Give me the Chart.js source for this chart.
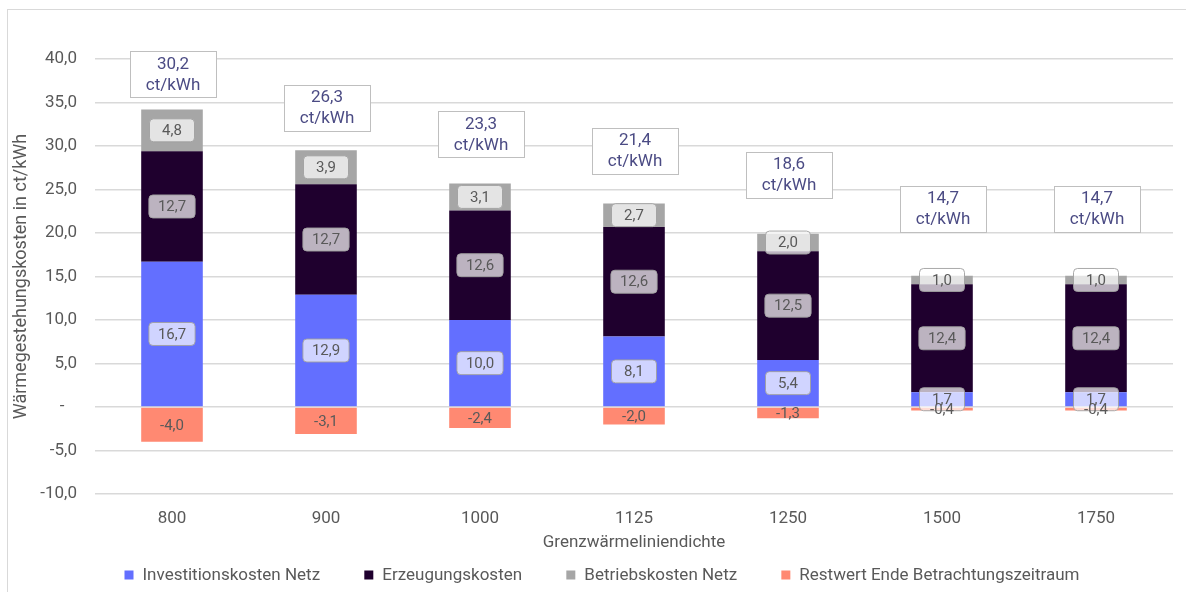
<!DOCTYPE html>
<html lang="de">
<head>
<meta charset="utf-8">
<title>Wärmegestehungskosten</title>
<script src="https://cdn.jsdelivr.net/npm/chart.js@4/dist/chart.umd.min.js"></script>
<style>
    html, body { margin: 0; padding: 0; background: #fff; }
    #wrap { width: 1186px; height: 592px; }
</style>
</head>
<body>
<div id="wrap"><canvas id="kostenChart" width="1186" height="592"></canvas></div>
<script>
// Grenzwärmeliniendichte (Kategorien)
const kategorien = ['800', '900', '1000', '1125', '1250', '1500', '1750'];

// Kostenbestandteile in ct/kWh
const investitionskosten = [16.7, 12.9, 10.0, 8.1, 5.4, 1.7, 1.7];
const erzeugungskosten = [12.7, 12.7, 12.6, 12.6, 12.5, 12.4, 12.4];
const betriebskosten = [4.8, 3.9, 3.1, 2.7, 2.0, 1.0, 1.0];
const restwert = [-4.0, -3.1, -2.4, -2.0, -1.3, -0.4, -0.4];

// Summe je Kategorie (Beschriftung oberhalb)
const gesamt = [30.2, 26.3, 23.3, 21.4, 18.6, 14.7, 14.7];

const FONT = "Roboto, 'Noto Sans', sans-serif";
const GRAU_TEXT = '#595959';

const fmt = v => v.toFixed(1).replace('.', ',');

// Rahmen um das gesamte Diagramm
const rahmen = {
    id: 'rahmen',
    beforeDraw(chart) {
        const ctx = chart.ctx;
        ctx.save();
        ctx.strokeStyle = '#D9D9D9';
        ctx.lineWidth = 1;
        ctx.strokeRect(7.5, 9.5, chart.width + 20, chart.height + 20);
        ctx.restore();
    }
};

function roundRect(ctx, x, y, w, h, r) {
    ctx.beginPath();
    ctx.moveTo(x + r, y);
    ctx.lineTo(x + w - r, y);
    ctx.quadraticCurveTo(x + w, y, x + w, y + r);
    ctx.lineTo(x + w, y + h - r);
    ctx.quadraticCurveTo(x + w, y + h, x + w - r, y + h);
    ctx.lineTo(x + r, y + h);
    ctx.quadraticCurveTo(x, y + h, x, y + h - r);
    ctx.lineTo(x, y + r);
    ctx.quadraticCurveTo(x, y, x + r, y);
    ctx.closePath();
}

// Werte in den Segmenten + Gesamtwert-Kästen
const beschriftung = {
    id: 'beschriftung',
    afterDatasetsDraw(chart) {
        const ctx = chart.ctx;
        ctx.save();
        ctx.font = `15px ${FONT}`;
        ctx.textAlign = 'center';
        ctx.textBaseline = 'middle';

        // Restwert zuletzt, damit kleine Werte unter den Kästen lesbar bleiben
        [0, 1, 2, 3].forEach(di => {
            const meta = chart.getDatasetMeta(di);
            const ds = chart.data.datasets[di];
            meta.data.forEach((bar, i) => {
                const { x, y, base } = bar.getProps(['x', 'y', 'base'], true);
                const cy = (y + base) / 2;
                const txt = fmt(ds.data[i]);
                if (ds.mitKasten) {
                    const tw = ctx.measureText(txt).width;
                    const w = Math.max(45, tw + 18), h = 23;
                    roundRect(ctx, x - w / 2, cy - h / 2, w, h, 4);
                    ctx.fillStyle = 'rgba(255,255,255,0.7)';
                    ctx.fill();
                    ctx.strokeStyle = 'rgba(160,160,160,0.9)';
                    ctx.lineWidth = 1;
                    ctx.stroke();
                }
                ctx.fillStyle = GRAU_TEXT;
                ctx.fillText(txt, x, cy + 1);
            });
        });

        const xs = chart.scales.x, ys = chart.scales.y;
        ctx.font = `17px ${FONT}`;
        gesamt.forEach((v, i) => {
            const x = xs.getPixelForValue(i) + 1;
            const cy = ys.getPixelForValue(v) - 70;
            const w = 86, h = 46;
            ctx.fillStyle = '#fff';
            ctx.fillRect(x - w / 2, cy - h / 2, w, h);
            ctx.strokeStyle = '#BFBFBF';
            ctx.lineWidth = 1;
            ctx.strokeRect(Math.round(x - w / 2) + 0.5, Math.round(cy - h / 2) + 0.5, w, h);
            ctx.fillStyle = '#4B4B84';
            ctx.fillText(fmt(v), x, cy - 10);
            ctx.fillText('ct/kWh', x, cy + 11);
        });
        ctx.restore();
    }
};

// Legende unten, Einträge gleichmäßig auf eine feste Breite verteilt
const legende = {
    id: 'legende',
    afterDraw(chart) {
        const ctx = chart.ctx;
        const ds = chart.data.datasets;
        const box = 9, abstand = 9, gesamtBreite = 955, mitte = 602, y = 575;
        ctx.save();
        ctx.font = `17px ${FONT}`;
        ctx.textBaseline = 'middle';
        ctx.textAlign = 'left';
        const breiten = ds.map(d => box + abstand + ctx.measureText(d.label).width);
        const luecke = (gesamtBreite - breiten.reduce((a, b) => a + b, 0)) / (ds.length - 1);
        let x = mitte - gesamtBreite / 2;
        ds.forEach((d, i) => {
            ctx.fillStyle = d.backgroundColor;
            ctx.fillRect(x, y - box / 2, box, box);
            ctx.fillStyle = GRAU_TEXT;
            ctx.fillText(d.label, x + box + abstand, y + 1);
            x += breiten[i] + luecke;
        });
        ctx.restore();
    }
};

const ctx = document.getElementById('kostenChart').getContext('2d');
new Chart(ctx, {
    type: 'bar',
    data: {
        labels: kategorien,
        datasets: [
            { label: 'Investitionskosten Netz', data: investitionskosten, backgroundColor: '#636FFF', mitKasten: true },
            { label: 'Erzeugungskosten', data: erzeugungskosten, backgroundColor: '#1F002E', mitKasten: true },
            { label: 'Betriebskosten Netz', data: betriebskosten, backgroundColor: '#A6A6A6', mitKasten: true },
            { label: 'Restwert Ende Betrachtungszeitraum', data: restwert, backgroundColor: '#FF8972', mitKasten: false }
        ]
    },
    options: {
        responsive: false,
        animation: false,
        devicePixelRatio: 1,
        layout: { padding: { top: 59, left: 8, right: 13, bottom: 37 } },
        datasets: {
            bar: { categoryPercentage: 1, barPercentage: 0.4, borderWidth: 0 }
        },
        scales: {
            x: {
                stacked: true,
                grid: { display: false, drawTicks: false },
                border: { display: false },
                ticks: { color: GRAU_TEXT, font: { family: FONT, size: 17 }, padding: 15 },
                title: {
                    display: true,
                    text: 'Grenzwärmeliniendichte',
                    color: GRAU_TEXT,
                    font: { family: FONT, size: 17 },
                    padding: { top: 0, bottom: 2 }
                },
                afterFit: s => { s.height = 61; }
            },
            y: {
                stacked: true,
                min: -10,
                max: 40,
                ticks: {
                    stepSize: 5,
                    color: GRAU_TEXT,
                    font: { family: FONT, size: 17 },
                    padding: 18,
                    callback: v => v === 0 ? '-   ' : fmt(v)
                },
                grid: { color: '#D9D9D9', drawTicks: false, lineWidth: 1.5 },
                border: { display: false },
                title: {
                    display: true,
                    text: 'Wärmegestehungskosten in ct/kWh',
                    color: GRAU_TEXT,
                    font: { family: FONT, size: 18 },
                    padding: { top: 3, bottom: 0 }
                },
                afterFit: s => { s.width = 87; }
            }
        },
        plugins: {
            legend: { display: false },
            tooltip: { enabled: false }
        }
    },
    plugins: [rahmen, beschriftung, legende]
});
</script>
</body>
</html>
